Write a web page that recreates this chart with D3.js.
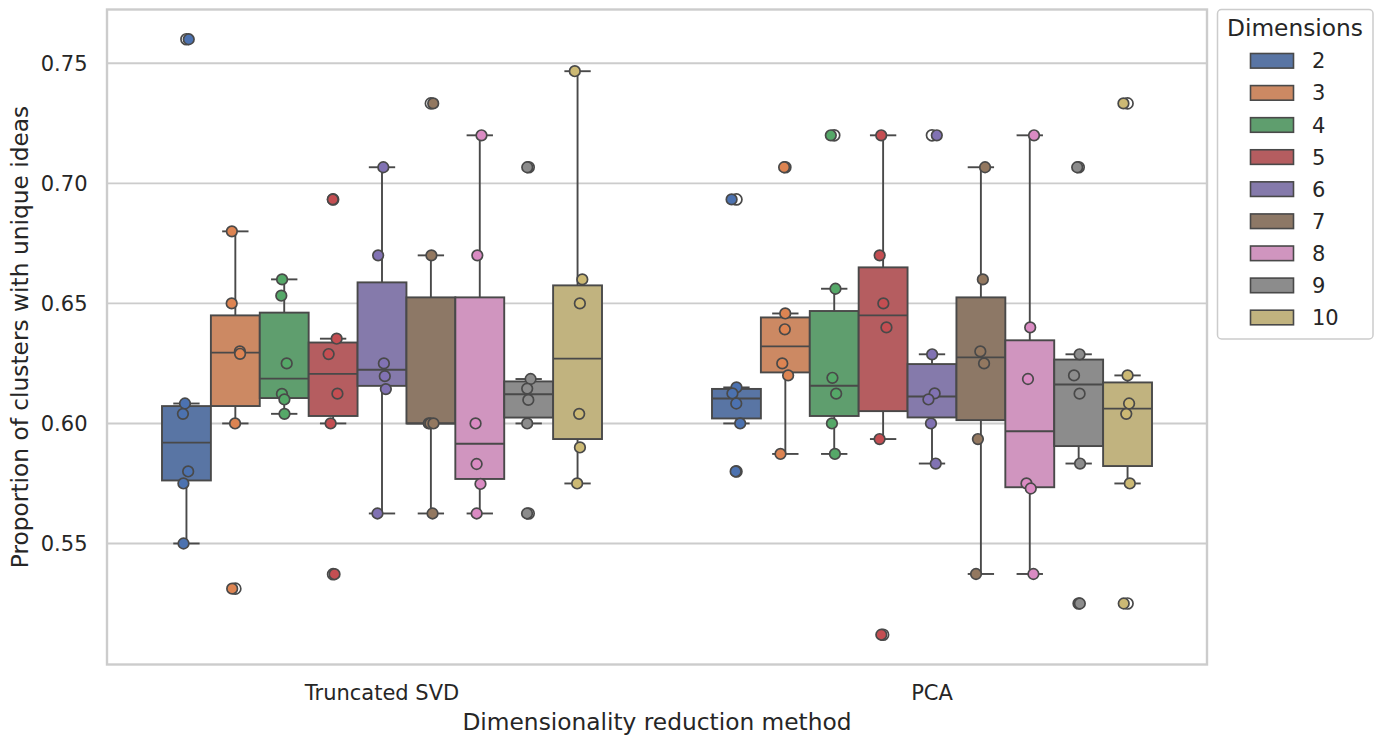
<!DOCTYPE html>
<html><head><meta charset="utf-8">
<script src="https://cdn.jsdelivr.net/npm/d3@7"></script>
<style>body{margin:0;background:#fff;} svg{display:block;font-family:"DejaVu Sans",sans-serif;}</style>
</head><body><svg id="c" width="1384" height="738"></svg>
<script>
// ---------------- data ----------------
const methods = ["Truncated SVD", "PCA"];
const dimensions = [2, 3, 4, 5, 6, 7, 8, 9, 10];
const svdValues = [
  [0.76, 0.6083, 0.604, 0.58, 0.575, 0.55],
  [0.68, 0.65, 0.63, 0.629, 0.60, 0.5312],
  [0.66, 0.6532, 0.625, 0.6123, 0.61, 0.604],
  [0.6933, 0.6353, 0.6289, 0.6124, 0.60, 0.5372],
  [0.7067, 0.67, 0.625, 0.6197, 0.6143, 0.5625],
  [0.7333, 0.67, 0.60, 0.60, 0.60, 0.5625],
  [0.72, 0.67, 0.60, 0.5831, 0.5748, 0.5625],
  [0.7067, 0.6185, 0.6145, 0.6098, 0.60, 0.5625],
  [0.7467, 0.66, 0.65, 0.604, 0.59, 0.575]
];
const pcaValues = [
  [0.6933, 0.615, 0.6125, 0.6083, 0.60, 0.58],
  [0.7067, 0.6458, 0.6392, 0.625, 0.62, 0.5873],
  [0.72, 0.6561, 0.619, 0.6124, 0.60, 0.5873],
  [0.72, 0.67, 0.65, 0.64, 0.5935, 0.512],
  [0.72, 0.6288, 0.6125, 0.61, 0.60, 0.5833],
  [0.7067, 0.66, 0.63, 0.625, 0.5935, 0.5373],
  [0.72, 0.64, 0.6185, 0.575, 0.5729, 0.5373],
  [0.7067, 0.6288, 0.62, 0.6124, 0.5833, 0.525],
  [0.7333, 0.62, 0.6083, 0.604, 0.575, 0.525]
];
const yTicks = [0.55, 0.60, 0.65, 0.70, 0.75];
const palette = ["#4C72B0","#DD8452","#55A868","#C44E52","#8172B3","#937860","#DA8BC3","#8C8C8C","#CCB974"];
const xTitle = "Dimensionality reduction method";
const yTitle = "Proportion of clusters with unique ideas";
const legendTitle = "Dimensions";

// ---------------- layout ----------------
const svg = d3.select("#c");
const L = 107, R = 1207, T = 9.5, B = 664.5;
const lineGray = "#494949", gridGray = "#cccccc";
const groups = [svdValues, pcaValues];

const all = groups.flat(2);
const [mn, mx] = d3.extent(all);
const pad = (mx - mn) * 0.05;
const y = d3.scaleLinear().domain([mn - pad, mx + pad]).range([B, T]);
const x = d3.scaleBand().domain(methods).range([L, R]).padding(0);
const bw = x.bandwidth();
const hue = d3.scaleBand().domain(dimensions).range([bw * 0.1, bw * 0.9]).padding(0);
const hw = hue.bandwidth();

function desat(c, p) { const h = d3.hsl(c); h.s *= p; return h.formatHex(); }
const boxColor = palette.map(c => desat(c, 0.75));

// grid
svg.append("g").selectAll("line").data(yTicks).join("line")
  .attr("x1", L).attr("x2", R).attr("y1", d => y(d)).attr("y2", d => y(d))
  .attr("stroke", gridGray).attr("stroke-width", 1.9);

// y tick labels
svg.append("g").selectAll("text").data(yTicks).join("text")
  .attr("x", 87.5).attr("y", d => y(d) + 7.6).attr("text-anchor", "end")
  .attr("font-size", 21).attr("fill", "#262626").text(d => d.toFixed(2));

// x tick labels
svg.append("g").selectAll("text").data(methods).join("text")
  .attr("x", d => x(d) + bw / 2).attr("y", 700).attr("text-anchor", "middle")
  .attr("font-size", 21).attr("fill", "#262626").text(d => d);

// axis titles
svg.append("text").attr("x", (L + R) / 2).attr("y", 730).attr("text-anchor", "middle")
  .attr("font-size", 23.3).attr("fill", "#262626").text(xTitle);
svg.append("text").attr("transform", `translate(28,${(T + B) / 2}) rotate(-90)`)
  .attr("text-anchor", "middle").attr("font-size", 23.3).attr("fill", "#262626").text(yTitle);

// box stats
function stats(vals) {
  const s = vals.slice().sort(d3.ascending);
  const q1 = d3.quantileSorted(s, 0.25), med = d3.quantileSorted(s, 0.5), q3 = d3.quantileSorted(s, 0.75);
  const iqr = q3 - q1, lo = q1 - 1.5 * iqr, hi = q3 + 1.5 * iqr;
  const inside = s.filter(v => v >= lo && v <= hi);
  return { q1, med, q3, wlo: d3.min(inside), whi: d3.max(inside), out: s.filter(v => v < lo || v > hi) };
}

const boxes = svg.append("g");
const rng = d3.randomUniform.source(d3.randomLcg(0.42))(-1, 1);
const pts = [];
methods.forEach((m, mi) => {
  dimensions.forEach((d, di) => {
    const vals = groups[mi][di];
    const st = stats(vals);
    const x0 = x(m) + hue(d), cx = x0 + hw / 2;
    const g = boxes.append("g");
    const capW = hw * 0.5;
    g.append("line").attr("x1", cx).attr("x2", cx).attr("y1", y(st.q3)).attr("y2", y(st.whi))
      .attr("stroke", lineGray).attr("stroke-width", 1.9);
    g.append("line").attr("x1", cx).attr("x2", cx).attr("y1", y(st.q1)).attr("y2", y(st.wlo))
      .attr("stroke", lineGray).attr("stroke-width", 1.9);
    [st.whi, st.wlo].forEach(v => g.append("line").attr("x1", cx - capW / 2).attr("x2", cx + capW / 2)
      .attr("y1", y(v)).attr("y2", y(v)).attr("stroke", lineGray).attr("stroke-width", 1.9)
      .attr("stroke-linecap", "square"));
    g.append("rect").attr("x", x0).attr("width", hw).attr("y", y(st.q3)).attr("height", y(st.q1) - y(st.q3))
      .attr("fill", boxColor[di]).attr("stroke", lineGray).attr("stroke-width", 1.9);
    g.append("line").attr("x1", x0).attr("x2", x0 + hw).attr("y1", y(st.med)).attr("y2", y(st.med))
      .attr("stroke", lineGray).attr("stroke-width", 1.9);
    g.selectAll("circle").data(st.out).join("circle").attr("cx", cx).attr("cy", v => y(v)).attr("r", 5.5)
      .attr("fill", "#fff").attr("stroke", lineGray).attr("stroke-width", 1.7);
    vals.forEach(v => pts.push({ v, cx: cx + rng() * hw * 0.1, c: palette[di] }));
  });
});

// strip points
svg.append("g").selectAll("circle").data(pts).join("circle")
  .attr("cx", p => p.cx).attr("cy", p => y(p.v)).attr("r", 5.3)
  .attr("fill", p => p.c).attr("stroke", lineGray).attr("stroke-width", 1.7);

// frame
svg.append("rect").attr("x", L).attr("y", T).attr("width", R - L).attr("height", B - T)
  .attr("fill", "none").attr("stroke", gridGray).attr("stroke-width", 2.4);

// legend
const lg = svg.append("g");
lg.append("rect").attr("x", 1217.5).attr("y", 9.5).attr("width", 155.5).attr("height", 329.5).attr("rx", 4)
  .attr("fill", "#fff").attr("fill-opacity", 0.8).attr("stroke", gridGray).attr("stroke-width", 1.5);
lg.append("text").attr("x", 1295).attr("y", 36).attr("text-anchor", "middle").attr("font-size", 23.3)
  .attr("fill", "#262626").text(legendTitle);
const ly = d3.scalePoint().domain(dimensions).range([60.8, 317.5]);
dimensions.forEach((d, i) => {
  lg.append("rect").attr("x", 1250.5).attr("y", ly(d) - 7.3).attr("width", 43).attr("height", 14.6)
    .attr("fill", boxColor[i]).attr("stroke", lineGray).attr("stroke-width", 1.6);
  lg.append("text").attr("x", 1312).attr("y", ly(d) + 7.6).attr("font-size", 21).attr("fill", "#262626").text(d);
});
</script></body></html>
